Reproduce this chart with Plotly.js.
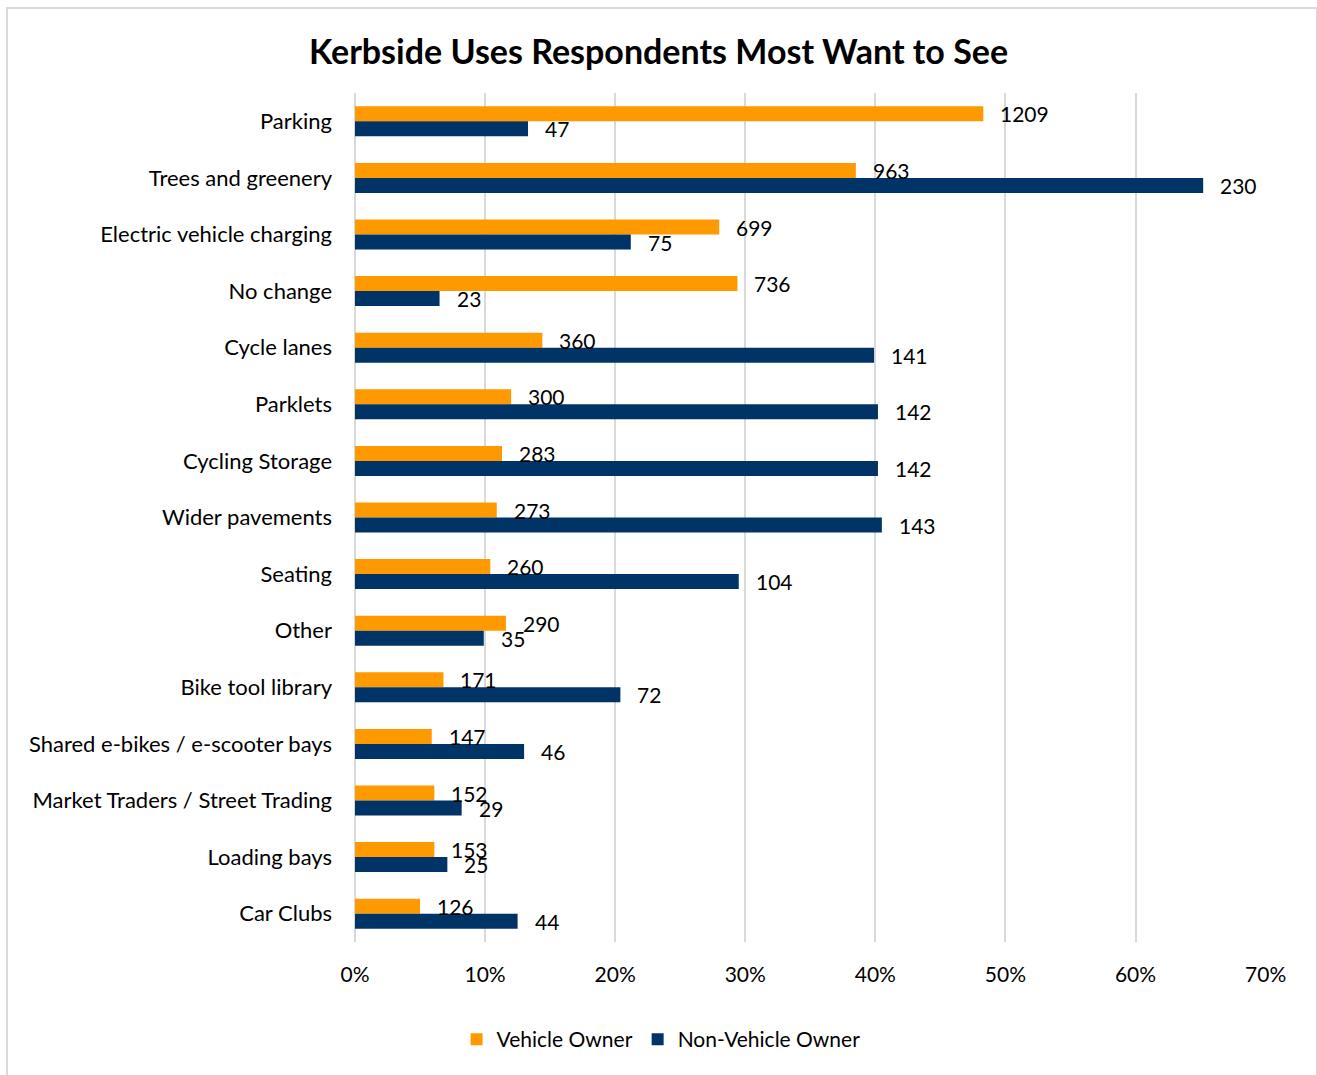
<!DOCTYPE html>
<html>
<head>
<meta charset="utf-8">
<script src="https://cdn.plot.ly/plotly-3.0.1.min.js"></script>
<style>
  html, body { margin: 0; padding: 0; background: #fff; }
  #chart { width: 1317px; height: 1075px; position: absolute; left: 0; top: 0; }
  #frame { position: absolute; left: 6px; top: 7px; width: 1308px; height: 1080px; border: 2px solid #D9D9D9; pointer-events: none; }
</style>
</head>
<body>
<div id="chart"></div>
<div id="frame"></div>
<script>
// Categories (top to bottom)
const categories = [
  "Parking", "Trees and greenery", "Electric vehicle charging", "No change",
  "Cycle lanes", "Parklets", "Cycling Storage", "Wider pavements", "Seating",
  "Other", "Bike tool library", "Shared e-bikes / e-scooter bays",
  "Market Traders / Street Trading", "Loading bays", "Car Clubs"
];
// Percent of respondents (bar lengths)
const vehiclePct = [48.3, 38.5, 28.0, 29.4, 14.4, 12.0, 11.3, 10.9, 10.4, 11.6, 6.8, 5.9, 6.1, 6.1, 5.0];
const nonVehiclePct = [13.3, 65.2, 21.2, 6.5, 39.9, 40.2, 40.2, 40.5, 29.5, 9.9, 20.4, 13.0, 8.2, 7.1, 12.5];
// Respondent counts (data labels)
const vehicleCount = [1209, 963, 699, 736, 360, 300, 283, 273, 260, 290, 171, 147, 152, 153, 126];
const nonVehicleCount = [47, 230, 75, 23, 141, 142, 142, 143, 104, 35, 72, 46, 29, 25, 44];
const xTicks = [0, 10, 20, 30, 40, 50, 60, 70];
const xTickLabels = ["0%", "10%", "20%", "30%", "40%", "50%", "60%", "70%"];

const FONT = "Lato, 'Open Sans', sans-serif";
const ORANGE = "#FF9900";
const NAVY = "#003366";

const traces = [
  { type: "bar", orientation: "h", name: "Vehicle Owner", y: categories, x: vehiclePct,
    marker: { color: ORANGE }, hoverinfo: "skip" },
  { type: "bar", orientation: "h", name: "Non-Vehicle Owner", y: categories, x: nonVehiclePct,
    marker: { color: NAVY }, hoverinfo: "skip" }
];

const annotations = [];
categories.forEach((c, i) => {
  annotations.push({ x: vehiclePct[i], y: c, xref: "x", yref: "y", text: String(vehicleCount[i]),
    showarrow: false, xanchor: "left", yanchor: "middle", xshift: 15, yshift: 7.5,
    font: { family: FONT, size: 21, color: "#000" } });
  annotations.push({ x: nonVehiclePct[i], y: c, xref: "x", yref: "y", text: String(nonVehicleCount[i]),
    showarrow: false, xanchor: "left", yanchor: "middle", xshift: 15, yshift: -7.5,
    font: { family: FONT, size: 21, color: "#000" } });
});

const layout = {
  width: 1317, height: 1075,
  paper_bgcolor: "rgba(0,0,0,0)", plot_bgcolor: "rgba(0,0,0,0)",
  margin: { l: 355, r: 51, t: 93, b: 133, pad: 0 },
  font: { family: FONT, size: 21, color: "#000" },
  title: { text: "<b>Kerbside Uses Respondents Most Want to See</b>",
    font: { family: FONT, size: 34, color: "#000" },
    x: 0.5, xanchor: "center", xref: "container", y: 1 - 52 / 1075, yanchor: "middle", yref: "container" },
  barmode: "group", bargap: 0.47, bargroupgap: 0,
  showlegend: true,
  legend: { orientation: "h", x: 0.336, xanchor: "center", y: -0.115, yanchor: "middle",
    font: { family: FONT, size: 21, color: "#000" }, itemwidth: 30, traceorder: "normal" },
  xaxis: { range: [0, 70.03], tickmode: "array", tickvals: xTicks, ticktext: xTickLabels, showgrid: true,
    gridcolor: "#D9D9D9", gridwidth: 2, zeroline: true, zerolinecolor: "#D9D9D9", zerolinewidth: 2,
    showline: false, ticks: "", ticklabelstandoff: 18, fixedrange: true,
    tickfont: { family: FONT, size: 21, color: "#000" } },
  yaxis: { type: "category", autorange: "reversed", showgrid: false, zeroline: false, showline: false,
    ticks: "", ticklabelstandoff: 22, fixedrange: true,
    tickfont: { family: FONT, size: 22, color: "#000" } },
  annotations: annotations
};

Plotly.newPlot("chart", traces, layout, { displayModeBar: false, staticPlot: true });
</script>
</body>
</html>
